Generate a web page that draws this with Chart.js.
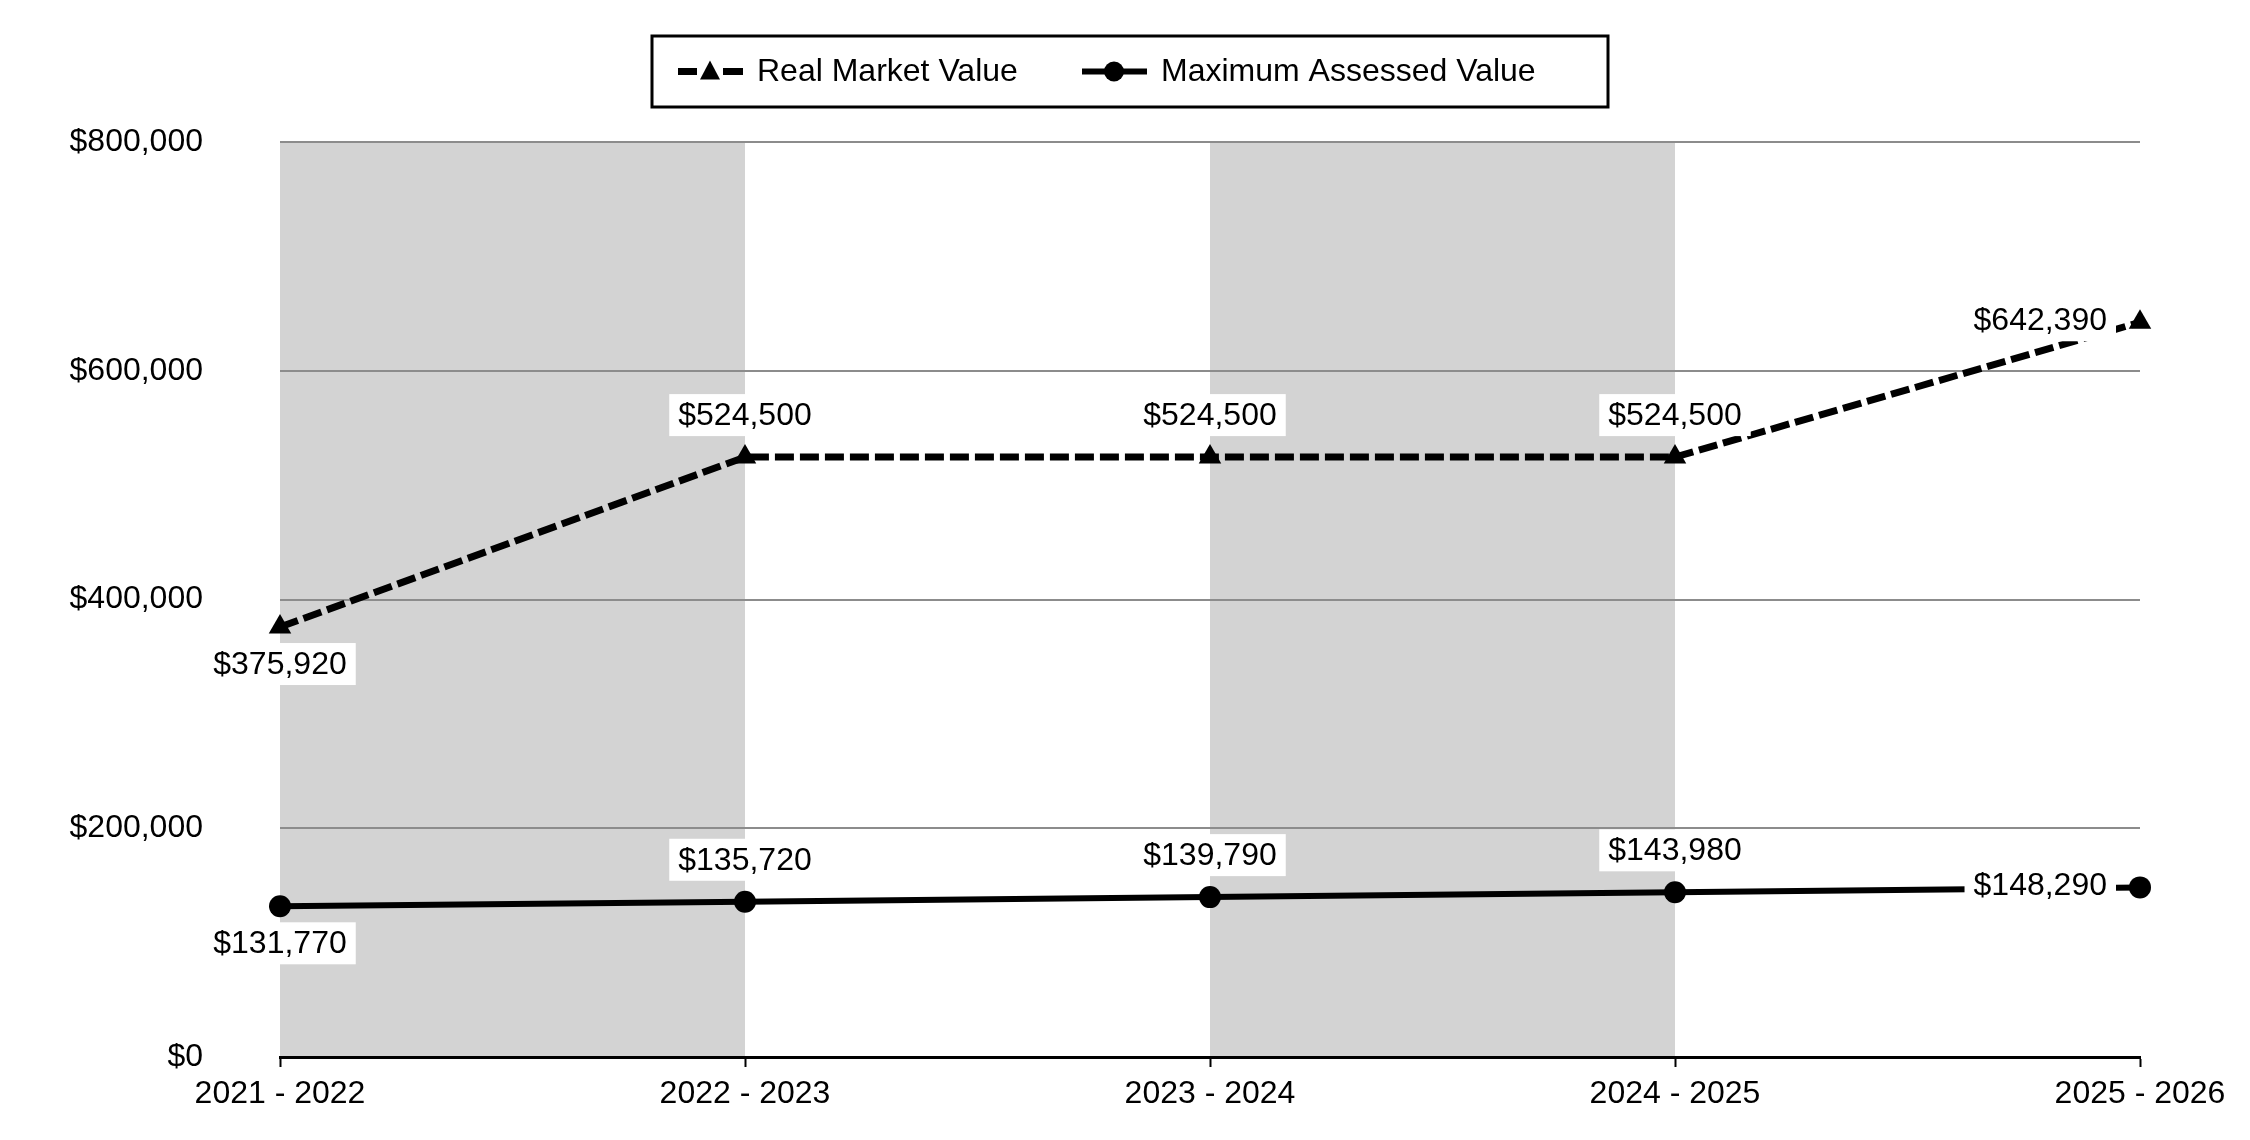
<!DOCTYPE html>
<html>
<head>
<meta charset="utf-8">
<script src="https://cdn.jsdelivr.net/npm/chart.js@4.4.1/dist/chart.umd.min.js"></script>
<style>
  html, body { margin: 0; padding: 0; background: #fff; }
</style>
</head>
<body>
<canvas id="valueChart" width="2250" height="1140"></canvas>
<script>
const years = ['2021 - 2022', '2022 - 2023', '2023 - 2024', '2024 - 2025', '2025 - 2026'];
const realMarketValue = [375920, 524500, 524500, 524500, 642390];
const maxAssessedValue = [131770, 135720, 139790, 143980, 148290];
const yTicks = [0, 200000, 400000, 600000, 800000];

const FONT = '"Liberation Sans", Arial, sans-serif';
const money = v => '$' + v.toLocaleString('en-US');

// Faixas cinzentas atrás dos anos alternados
const bandsPlugin = {
  id: 'bands',
  beforeDraw(chart) {
    const { ctx, chartArea, scales } = chart;
    ctx.save();
    ctx.fillStyle = '#fff';
    ctx.fillRect(0, 0, chart.width, chart.height);
    ctx.fillStyle = '#d3d3d3';
    for (let i = 0; i + 1 < years.length; i += 2) {
      const x0 = scales.x.getPixelForValue(i);
      const x1 = scales.x.getPixelForValue(i + 1);
      ctx.fillRect(x0, chartArea.top, x1 - x0, chartArea.bottom - chartArea.top);
    }
    ctx.restore();
  }
};

// Etiquetas de valor com fundo branco
const valueLabels = {
  id: 'valueLabels',
  afterDatasetsDraw(chart) {
    const ctx = chart.ctx;
    ctx.save();
    ctx.font = '32px ' + FONT;
    ctx.textBaseline = 'middle';
    chart.data.datasets.forEach((ds, di) => {
      const meta = chart.getDatasetMeta(di);
      const last = meta.data.length - 1;
      meta.data.forEach((pt, i) => {
        const text = money(ds.data[i]);
        const w = ctx.measureText(text).width;
        const padX = 9, h = 42;
        let cx, cy;
        if (i === 0) { cx = pt.x; cy = pt.y + 37; }
        else if (i === last) { cx = pt.x - 24 - padX - w / 2; cy = pt.y - 2; }
        else { cx = pt.x; cy = pt.y - 42; }
        ctx.fillStyle = '#fff';
        ctx.fillRect(cx - w / 2 - padX, cy - h / 2, w + padX * 2, h);
        ctx.fillStyle = '#000';
        ctx.textAlign = 'center';
        ctx.fillText(text, cx, cy + 1);
      });
    });
    ctx.restore();
  }
};

// Legenda desenhada à mão, com caixa
const boxLegend = {
  id: 'boxLegend',
  afterDraw(chart) {
    const ctx = chart.ctx;
    const left = 652, top = 36, w = 956, h = 71;
    const cy = top + h / 2;
    ctx.save();
    ctx.strokeStyle = '#000';
    ctx.lineWidth = 3;
    ctx.strokeRect(left, top, w, h);

    ctx.lineWidth = 7;
    ctx.beginPath();
    ctx.moveTo(678, cy); ctx.lineTo(697, cy);
    ctx.moveTo(723, cy); ctx.lineTo(743, cy);
    ctx.stroke();
    ctx.fillStyle = '#000';
    ctx.beginPath();
    ctx.moveTo(710, cy - 11); ctx.lineTo(720, cy + 8); ctx.lineTo(700, cy + 8);
    ctx.closePath(); ctx.fill();

    ctx.lineWidth = 6;
    ctx.beginPath();
    ctx.moveTo(1082, cy); ctx.lineTo(1147, cy);
    ctx.stroke();
    ctx.beginPath();
    ctx.arc(1114, cy, 10, 0, Math.PI * 2);
    ctx.fill();

    ctx.font = '32px ' + FONT;
    ctx.textBaseline = 'middle';
    ctx.textAlign = 'left';
    ctx.fillText(chart.data.datasets[0].label, 757, cy + 1);
    ctx.fillText(chart.data.datasets[1].label, 1161, cy + 1);
    ctx.restore();
  }
};

new Chart(document.getElementById('valueChart'), {
  type: 'line',
  data: {
    labels: years,
    datasets: [
      {
        label: 'Real Market Value',
        data: realMarketValue,
        borderColor: '#000',
        borderWidth: 7,
        borderDash: [19, 6],
        pointStyle: 'triangle',
        pointRadius: 13,
        pointBackgroundColor: '#000',
        pointBorderWidth: 0,
        tension: 0,
        clip: false
      },
      {
        label: 'Maximum Assessed Value',
        data: maxAssessedValue,
        borderColor: '#000',
        borderWidth: 6,
        pointStyle: 'circle',
        pointRadius: 11,
        pointBackgroundColor: '#000',
        pointBorderWidth: 0,
        tension: 0,
        clip: false
      }
    ]
  },
  options: {
    responsive: false,
    devicePixelRatio: 1,
    animation: false,
    layout: { padding: { top: 142, right: 110, left: 0, bottom: 0 } },
    scales: {
      x: {
        offset: false,
        afterFit: s => { s.height = 83; },
        grid: { drawOnChartArea: false, drawTicks: true, tickLength: 10, tickColor: '#000', tickWidth: 2 },
        border: { display: true, color: '#000', width: 3 },
        ticks: { color: '#000', padding: 8, maxRotation: 0, font: { family: FONT, size: 32 } }
      },
      y: {
        min: 0,
        max: 800000,
        // a folga de 77px é só horizontal; não deixar que empurre a área do gráfico
        afterFit: s => { s.width = 280; s.paddingTop = 20; s.paddingBottom = 20; },
        afterBuildTicks: s => { s.ticks = yTicks.map(v => ({ value: v })); },
        grid: { color: '#8c8c8c', lineWidth: 2, drawTicks: false },
        border: { display: false },
        ticks: { color: '#000', padding: 77, font: { family: FONT, size: 32 }, callback: v => money(v) }
      }
    },
    plugins: {
      legend: { display: false },
      tooltip: { enabled: false }
    }
  },
  plugins: [bandsPlugin, valueLabels, boxLegend]
});
</script>
</body>
</html>
